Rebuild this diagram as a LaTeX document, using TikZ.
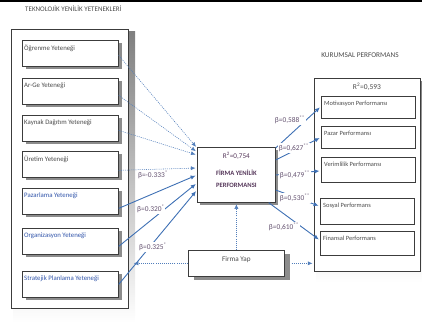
\documentclass[tikz,border=0pt]{standalone}
\usepackage{fontspec}
\setmainfont{Carlito}
\usetikzlibrary{arrows.meta,shadows,backgrounds,calc}
\definecolor{frame}{RGB}{60,60,60}
\definecolor{shade}{RGB}{140,140,140}
\definecolor{linkblue}{RGB}{62,112,180}
\definecolor{txtblue}{RGB}{50,85,170}
\definecolor{betacol}{RGB}{100,82,112}
\definecolor{txtgray}{RGB}{75,75,75}
\definecolor{cenpurple}{RGB}{85,55,90}

\begin{document}
\begin{tikzpicture}[x=1pt,y=-1pt,
  every node/.style={font=\fontsize{6}{7}\selectfont},
  frameline/.style={draw=frame, line width=0.7pt, fill=white, inner sep=0pt, anchor=north west},
  inbox/.style={frameline, minimum width=96pt, minimum height=26pt,
    drop shadow={shadow xshift=3.5pt, shadow yshift=-3pt, fill=shade, opacity=1}},
  rbox/.style={frameline, minimum width=94pt},
  boxtext/.style={anchor=north west, inner sep=0pt, xshift=#1, yshift=-5pt},
  lefttext/.style={boxtext=2pt, text=#1, font=\fontsize{6.8}{8}\selectfont},
  righttext/.style={boxtext=3pt, text=txtgray, font=\fontsize{6.4}{7}\selectfont},
  beta/.style={fill=white, inner sep=0.6pt, text=betacol, font=\fontsize{7.4}{8}\selectfont},
  solidlink/.style={draw=linkblue, line width=0.9pt, -{Latex[length=5pt,width=4.4pt]}, shorten >=1.5pt},
  dotlink/.style={draw=linkblue!90, line width=0.55pt, dash pattern=on 1pt off 1.1pt,
    -{Latex[length=4.6pt,width=4pt]}, shorten >=1.5pt},
  heading/.style={text=txtgray, font=\fontsize{7}{8}\selectfont}
]
\useasboundingbox (0,0) rectangle (422,329);

% rule along the top edge
\draw[black, line width=1.6pt] (0,1.2) -- (422,1.2);

% headings
\node[heading, anchor=west, inner sep=0pt] (h1) at (25,9) {TEKNOLOJİK YENİLİK YETENEKLERİ};
\node[heading, font=\fontsize{7.3}{8}\selectfont] (h2) at (360,55) {KURUMSAL PERFORMANS};

% left group frame
\node[frameline, minimum width=117pt, minimum height=279pt] (tyy) at (11,29) {};
% right group frame
\node[frameline, minimum width=106pt, minimum height=193pt] (kp) at (314,78) {};
\begin{scope}[on background layer]
  \fill[shade] (13,32) rectangle (135,323);
  \fill[shade] (316,81) rectangle (422,282);
\end{scope}

% capability boxes
\node[inbox, label={[lefttext=txtgray]north west:Öğrenme Yeteneği}] (ogr) at (22,40) {};
\node[inbox, label={[lefttext=txtgray]north west:Ar-Ge Yeteneği}] (arge) at (22,78) {};
\node[inbox, label={[lefttext=txtgray]north west:Kaynak Dağıtım Yeteneği}] (kay) at (22,115) {};
\node[inbox, label={[lefttext=txtgray]north west:Üretim Yeteneği}] (ure) at (22,151) {};
\node[inbox, label={[lefttext=txtblue]north west:Pazarlama Yeteneği}] (paz) at (22,188) {};
\node[inbox, label={[lefttext=txtblue]north west:Organizasyon Yeteneği}] (org) at (22,228) {};
\node[inbox, label={[lefttext=txtblue]north west:Stratejik Planlama Yeteneği}] (str) at (22,271) {};

% central construct
\node[frameline, minimum width=78pt, minimum height=55pt,
  drop shadow={shadow xshift=3pt, shadow yshift=-3pt, fill=shade, opacity=1}] (cen) at (197,147) {};
\node[text=cenpurple, anchor=north, font=\fontsize{7.2}{8}\selectfont] (cenr) at ($(cen.north)+(0,1.5)$) {R\textsuperscript{2}=0,754};
\node[text=cenpurple, align=center, font=\bfseries\fontsize{6.6}{12}\selectfont] (cent) at ($(cen.center)+(0,4)$) {FİRMA YENİLİK\\PERFORMANSI};

% firm structure box
\node[frameline, minimum width=96pt, minimum height=26pt,
  drop shadow={shadow xshift=6pt, shadow yshift=-4pt, fill=shade, opacity=1}] (fy) at (188,250) {};
\node[text=txtgray, anchor=north, font=\fontsize{7.2}{8}\selectfont] (fyt) at ($(fy.north)+(0,3.5)$) {Firma Yap};

% performance boxes
\node[rbox, minimum height=22pt, label={[righttext]north west:Motivasyon Performansı}] (mot) at (321,96) {};
\node[rbox, minimum height=22pt, label={[righttext]north west:Pazar Performansı}] (pzp) at (321,126) {};
\node[rbox, minimum height=25pt, label={[righttext]north west:Verimlilik Performansı}] (ver) at (321,157) {};
\node[rbox, minimum height=26pt, label={[righttext]north west:Sosyal Performans}] (sos) at (320,198) {};
\node[rbox, minimum height=24pt, label={[righttext]north west:Finansal Performans}] (fin) at (320,231) {};

% capabilities -> firm innovation performance
\draw[dotlink] ($(ogr.east)+(0,2)$) -- ($(cen.north west)+(0,1)$);
\draw[dotlink] ($(arge.east)+(0,4)$) -- ($(cen.north west)+(0,5)$);
\draw[dotlink] ($(kay.east)+(0,2)$) -- ($(cen.north west)+(0,8)$);
\draw[dotlink] ($(ure.east)+(0,6)$) -- ($(cen.north west)+(0,21)$);
\draw[solidlink] ($(paz.east)+(0,7)$) -- ($(cen.north west)+(0,28)$);
\draw[solidlink] ($(org.east)+(0,5)$) -- ($(cen.north west)+(0,36)$);
\draw[solidlink] ($(str.east)+(0,0)$) -- ($(cen.north west)+(0,43)$);

% firm innovation performance -> corporate performance
\draw[solidlink] ($(cen.north east)+(0,1)$) -- ($(mot.west)+(0,-1)$);
\draw[solidlink] ($(cen.north east)+(0,13)$) -- (pzp.west);
\draw[solidlink] ($(cen.north east)+(0,28)$) -- ($(ver.west)+(0,1)$);
\draw[solidlink] ($(cen.north east)+(0,43)$) -- ($(sos.west)+(0,-5)$);
\draw[solidlink] ($(cen.south east)+(-7,0)$) -- ($(fin.west)+(0,-3)$);

% firm structure links
\draw[dotlink] (fy.north) -- (cen.south);
\draw[dotlink, shorten >=5pt] (fy.west) -- (tyy.east |- fy.west);
\draw[dotlink, shorten <=7pt] (fy.east) -- (kp.west |- fy.east);

% path coefficients
\node[beta] (b1) at (153,175) {β=-0.333\textsuperscript{*}};
\node[beta] (b2) at (151,209) {β=0.320\textsuperscript{*}};
\node[beta] (b3) at (153,247) {β=0.325\textsuperscript{*}};
\node[beta] (b4) at (290,120) {β=0,588\textsuperscript{**}};
\node[beta] (b5) at (294,148) {β=0,627\textsuperscript{**}};
\node[beta] (b6) at (295,175) {β=0,479\textsuperscript{**}};
\node[beta] (b7) at (295,198) {β=0,530\textsuperscript{**}};
\node[beta] (b8) at (284,227) {β=0,610\textsuperscript{**}};

% explained variance of corporate performance
\node[text=txtgray, font=\fontsize{7.5}{8}\selectfont] (kpr) at (367,87) {R\textsuperscript{2}=0,593};
\end{tikzpicture}
\end{document}
